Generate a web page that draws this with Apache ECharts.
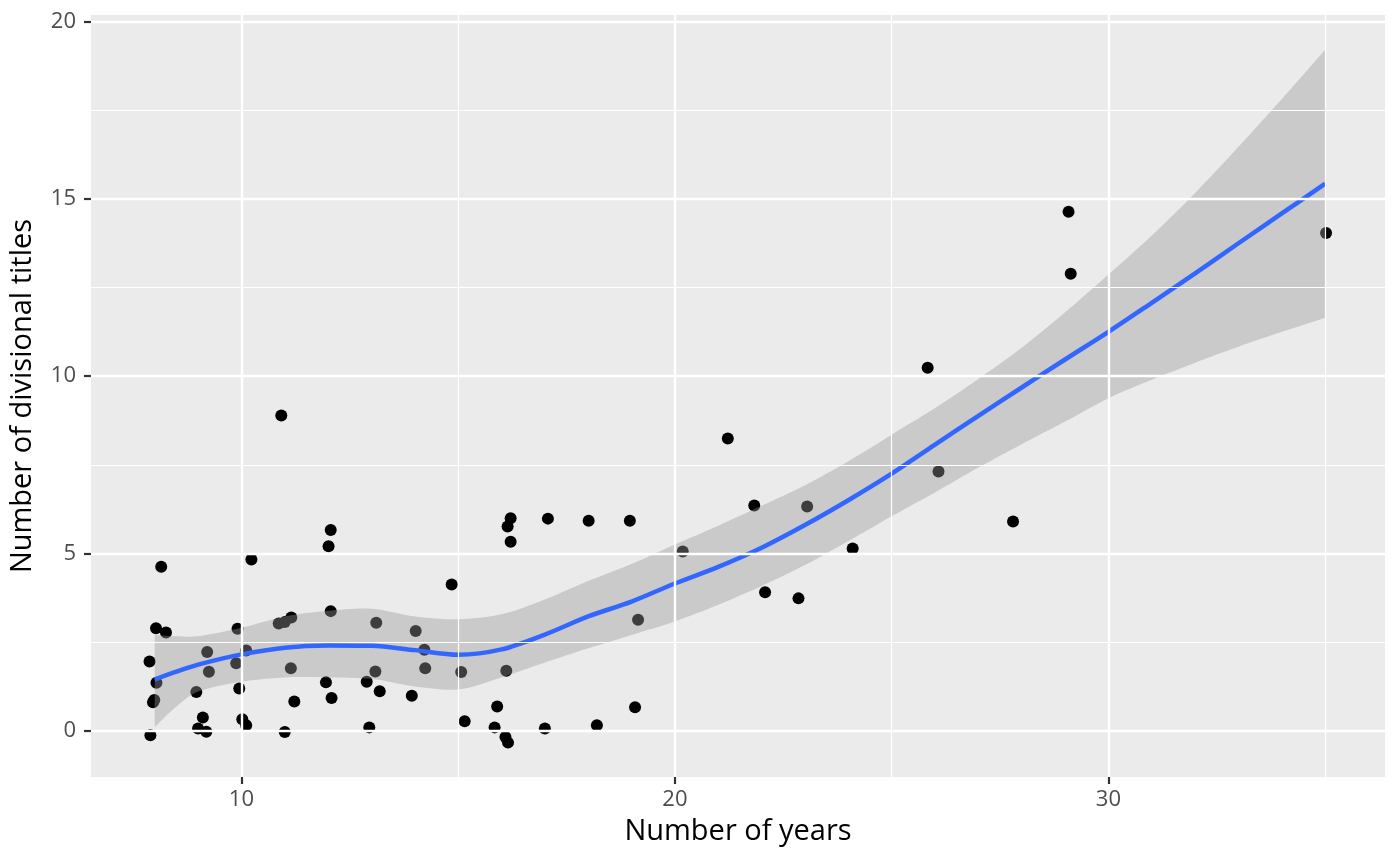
<!DOCTYPE html>
<html>
<head>
<meta charset="utf-8">
<script src="https://cdn.jsdelivr.net/npm/echarts@6/dist/echarts.min.js"></script>
<style>
  html, body { margin: 0; padding: 0; background: #fff; }
  #chart { width: 1400px; height: 866px; }
</style>
</head>
<body>
<div id="chart"></div>
<script>
// jittered points
var years = [7.90, 7.96, 7.99, 7.88, 8.04, 8.03, 8.26, 8.15, 8.96, 9.00,
             9.11, 9.19, 9.21, 9.25, 9.91, 9.88, 9.95, 10.11, 10.02, 10.11,
             10.23, 10.92, 10.86, 11.00, 11.15, 11.00, 11.14, 11.22, 11.95, 12.06,
             12.01, 12.06, 12.08, 12.89, 12.95, 13.11, 13.09, 13.19, 13.93, 14.02,
             14.22, 14.24, 14.85, 15.07, 15.15, 15.84, 15.90, 16.09, 16.15, 16.11,
             16.21, 16.14, 16.21, 17.00, 17.07, 18.01, 18.20, 18.96, 19.08, 19.15,
             20.18, 21.22, 21.83, 22.08, 22.85, 23.05, 24.10, 25.83, 26.08, 27.80,
             29.08, 29.13, 35.02];
var titles = [-0.13, 0.80, 0.86, 1.95, 1.35, 2.89, 2.77, 4.62, 1.09, 0.06,
              0.37, -0.03, 2.22, 1.66, 2.87, 1.90, 1.19, 2.26, 0.32, 0.15,
              4.83, 8.89, 3.02, 3.06, 3.19, -0.04, 1.76, 0.82, 1.36, 5.66,
              5.20, 3.37, 0.92, 1.38, 0.09, 3.04, 1.67, 1.11, 0.98, 2.81,
              2.28, 1.76, 4.12, 1.65, 0.26, 0.09, 0.68, -0.18, -0.34, 1.69,
              5.99, 5.76, 5.33, 0.06, 5.98, 5.92, 0.15, 5.92, 0.66, 3.13,
              5.05, 8.24, 6.35, 3.90, 3.73, 6.32, 5.14, 10.24, 7.31, 5.90,
              14.64, 12.89, 14.04];

// loess fit with its confidence band
var fitX     = [8, 8.5, 9, 10, 11, 12, 13, 14, 15, 16, 17, 18, 19, 20, 21, 22, 23, 24, 25, 26, 27, 28, 29, 30, 31, 32, 33, 34, 35];
var fitY     = [1.44, 1.66, 1.86, 2.15, 2.34, 2.40, 2.39, 2.27, 2.14, 2.29, 2.71, 3.22, 3.64, 4.15, 4.62, 5.16, 5.80, 6.50, 7.25, 8.07, 8.88, 9.68, 10.47, 11.25, 12.07, 12.90, 13.75, 14.59, 15.43];
var fitUpper = [2.70, 2.66, 2.66, 2.90, 3.22, 3.38, 3.44, 3.22, 3.14, 3.28, 3.70, 4.22, 4.70, 5.25, 5.78, 6.34, 6.92, 7.60, 8.35, 9.10, 9.92, 10.80, 11.80, 12.87, 13.97, 15.17, 16.47, 17.82, 19.21];
var fitLower = [0.10, 0.68, 1.10, 1.38, 1.50, 1.50, 1.46, 1.24, 1.16, 1.50, 1.92, 2.32, 2.70, 3.08, 3.55, 4.08, 4.67, 5.35, 6.05, 6.72, 7.42, 8.08, 8.72, 9.38, 9.90, 10.38, 10.83, 11.25, 11.65];

// ticks
var xTicks = [10, 20, 30];
var yTicks = [0, 5, 10, 15, 20];
var xMinor = [15, 25, 35];
var yMinor = [2.5, 7.5, 12.5, 17.5];

var FONT = 'Open Sans';

function zip(a, b) {
  return a.map(function (v, i) { return [v, b[i]]; });
}

function gridLines(xs, ys, width) {
  return {
    silent: true,
    symbol: 'none',
    label: { show: false },
    lineStyle: { color: '#ffffff', width: width, type: 'solid', opacity: 1 },
    data: xs.map(function (v) { return { xAxis: v }; })
      .concat(ys.map(function (v) { return { yAxis: v }; }))
  };
}

var myChart = echarts.init(document.getElementById('chart'));

var axisCommon = {
  type: 'value',
  axisLine: { show: false, onZero: false },
  axisTick: { show: true, length: 7, lineStyle: { color: '#333333', width: 2.2 } },
  axisLabel: { color: '#4D4D4D', fontSize: 22, fontFamily: FONT },
  splitLine: { show: false },
  nameLocation: 'middle',
  nameTextStyle: { color: '#000000', fontSize: 29, fontFamily: FONT }
};

var option = {
  animation: false,
  backgroundColor: '#ffffff',
  grid: {
    left: 91, right: 15, top: 15, bottom: 89,
    show: true, backgroundColor: '#EBEBEB', borderWidth: 0
  },
  xAxis: echarts.util.merge({
    min: 6.53, max: 36.38,
    name: 'Number of years',
    nameGap: 40,
    axisTick: { customValues: xTicks },
    axisLabel: { customValues: xTicks, margin: 12 }
  }, axisCommon),
  yAxis: echarts.util.merge({
    min: -1.31, max: 20.19,
    name: 'Number of divisional titles',
    nameGap: 54,
    axisTick: { customValues: yTicks },
    axisLabel: { customValues: yTicks, margin: 15 }
  }, axisCommon),
  series: [
    { type: 'line', data: [], z: 1, silent: true, markLine: gridLines(xMinor, yMinor, 1.2) },
    { type: 'line', data: [], z: 1, silent: true, markLine: gridLines(xTicks, yTicks, 2.4) },
    {
      type: 'scatter',
      data: zip(years, titles),
      symbolSize: 12,
      itemStyle: { color: '#000000', opacity: 1 },
      z: 2
    },
    {
      // confidence band drawn over the points
      type: 'custom',
      data: [0],
      z: 3,
      silent: true,
      clip: true,
      renderItem: function (params, api) {
        var n = fitX.length;
        var pts = [];
        // corner points doubled so the vertical ends stay straight
        pts.push(api.coord([fitX[0], fitUpper[0]]));
        for (var i = 0; i < n; i++) pts.push(api.coord([fitX[i], fitUpper[i]]));
        pts.push(api.coord([fitX[n - 1], fitUpper[n - 1]]));
        pts.push(api.coord([fitX[n - 1], fitLower[n - 1]]));
        for (var j = n - 1; j >= 0; j--) pts.push(api.coord([fitX[j], fitLower[j]]));
        pts.push(api.coord([fitX[0], fitLower[0]]));
        return {
          type: 'polygon',
          shape: { points: pts, smooth: 0.3 },
          style: { fill: '#999999', opacity: 0.4 }
        };
      }
    },
    {
      type: 'line',
      data: zip(fitX, fitY),
      smooth: 0.3,
      symbol: 'none',
      lineStyle: { color: '#3366FF', width: 4.5 },
      z: 4
    }
  ]
};
myChart.setOption(option);
</script>
</body>
</html>
